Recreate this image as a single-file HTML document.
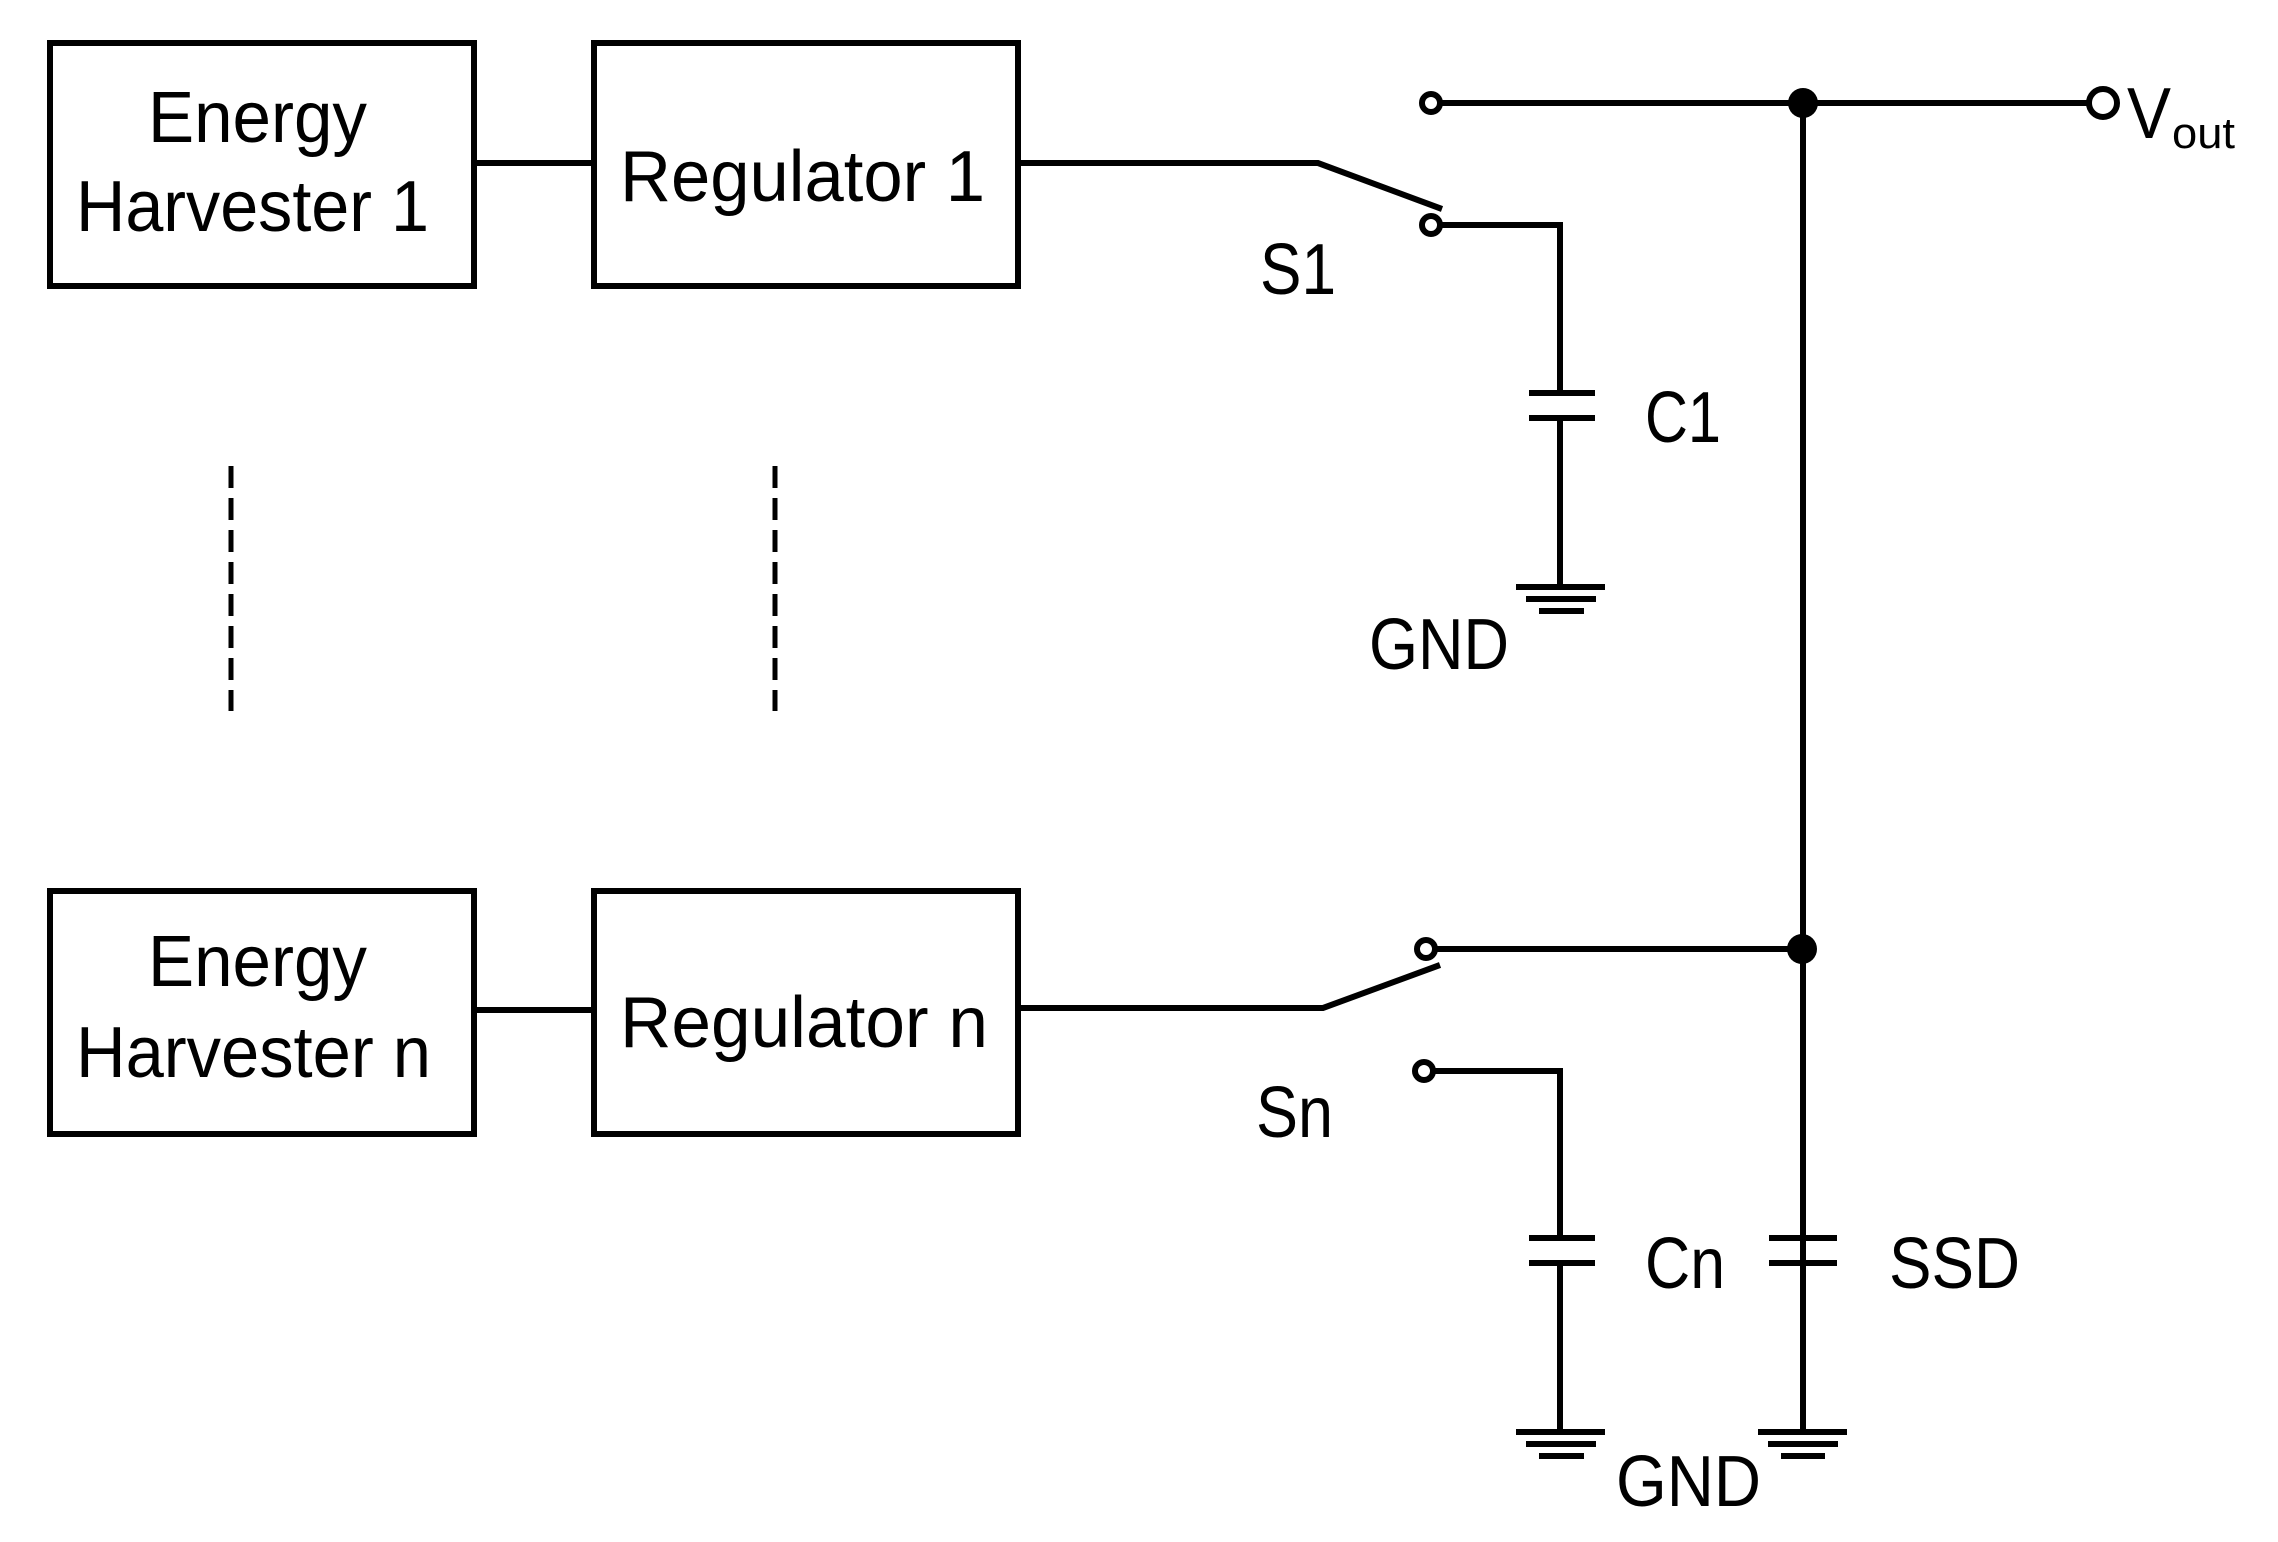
<!DOCTYPE html>
<html><head><meta charset="utf-8"><style>
html,body{margin:0;padding:0;background:#fff;}
svg{display:block;}
text{font-family:"Liberation Sans",sans-serif;fill:#000;}
</style></head><body>
<svg width="2278" height="1542" viewBox="0 0 2278 1542" xmlns="http://www.w3.org/2000/svg">
<g fill="none" stroke="#000" stroke-width="6">
<rect x="50" y="43" width="424" height="243"/>
<rect x="594" y="43" width="424" height="243"/>
<rect x="50" y="891" width="424" height="243"/>
<rect x="594" y="891" width="424" height="243"/>
<line x1="474" y1="163" x2="594" y2="163"/>
<line x1="474" y1="1010" x2="594" y2="1010"/>
<polyline points="1018,163 1318,163 1442,209"/>
<polyline points="1441,225 1560,225 1560,393"/>
<line x1="1529" y1="393" x2="1595" y2="393"/>
<line x1="1529" y1="418" x2="1595" y2="418"/>
<line x1="1560" y1="418" x2="1560" y2="587"/>
<line x1="1516" y1="587" x2="1605" y2="587"/>
<line x1="1526" y1="599" x2="1596" y2="599"/>
<line x1="1539" y1="611" x2="1584" y2="611"/>
<line x1="1441" y1="103" x2="2088" y2="103"/>
<line x1="1803" y1="103" x2="1803" y2="1432"/>
<polyline points="1018,1008 1323,1008 1440,965"/>
<line x1="1436" y1="949" x2="1803" y2="949"/>
<polyline points="1434,1071 1560,1071 1560,1238"/>
<line x1="1529" y1="1238" x2="1595" y2="1238"/>
<line x1="1529" y1="1263" x2="1595" y2="1263"/>
<line x1="1560" y1="1263" x2="1560" y2="1432"/>
<line x1="1516" y1="1432" x2="1605" y2="1432"/>
<line x1="1526" y1="1444" x2="1596" y2="1444"/>
<line x1="1539" y1="1456" x2="1584" y2="1456"/>
<line x1="1769" y1="1238" x2="1837" y2="1238"/>
<line x1="1769" y1="1263" x2="1837" y2="1263"/>
<line x1="1758" y1="1432" x2="1847" y2="1432"/>
<line x1="1768" y1="1444" x2="1838" y2="1444"/>
<line x1="1781" y1="1456" x2="1825" y2="1456"/>
<circle cx="1431" cy="103" r="9" fill="#fff"/>
<circle cx="1431" cy="225" r="9" fill="#fff"/>
<circle cx="1426" cy="949" r="9" fill="#fff"/>
<circle cx="1424" cy="1071" r="9" fill="#fff"/>
<circle cx="2103" cy="103" r="14" fill="#fff"/>
<line x1="231" y1="466" x2="231" y2="711" stroke-width="5" stroke-dasharray="22,10"/>
<line x1="775" y1="466" x2="775" y2="711" stroke-width="5" stroke-dasharray="22,10"/>
</g>
<circle cx="1803" cy="103" r="15" fill="#000"/>
<circle cx="1802" cy="949" r="15" fill="#000"/>
<g font-size="72">
<text x="148" y="142" textLength="219" lengthAdjust="spacingAndGlyphs">Energy</text>
<text x="76" y="231" textLength="353" lengthAdjust="spacingAndGlyphs">Harvester 1</text>
<text x="620" y="201" textLength="365" lengthAdjust="spacingAndGlyphs">Regulator 1</text>
<text x="148" y="986" textLength="219" lengthAdjust="spacingAndGlyphs">Energy</text>
<text x="76" y="1077" textLength="355" lengthAdjust="spacingAndGlyphs">Harvester n</text>
<text x="620" y="1047" textLength="368" lengthAdjust="spacingAndGlyphs">Regulator n</text>
<text x="1260" y="294" textLength="76" lengthAdjust="spacingAndGlyphs">S1</text>
<text x="1645" y="442" textLength="76" lengthAdjust="spacingAndGlyphs">C1</text>
<text x="1369" y="669" textLength="140" lengthAdjust="spacingAndGlyphs">GND</text>
<text x="1256" y="1137" textLength="77" lengthAdjust="spacingAndGlyphs">Sn</text>
<text x="1645" y="1288" textLength="80" lengthAdjust="spacingAndGlyphs">Cn</text>
<text x="1889" y="1288" textLength="131" lengthAdjust="spacingAndGlyphs">SSD</text>
<text x="1616" y="1506" textLength="145" lengthAdjust="spacingAndGlyphs">GND</text>
<text x="2127" y="138" textLength="44" lengthAdjust="spacingAndGlyphs">V</text>
</g>
<text x="2172" y="148" font-size="44" textLength="63" lengthAdjust="spacingAndGlyphs">out</text>
</svg>
</body></html>
